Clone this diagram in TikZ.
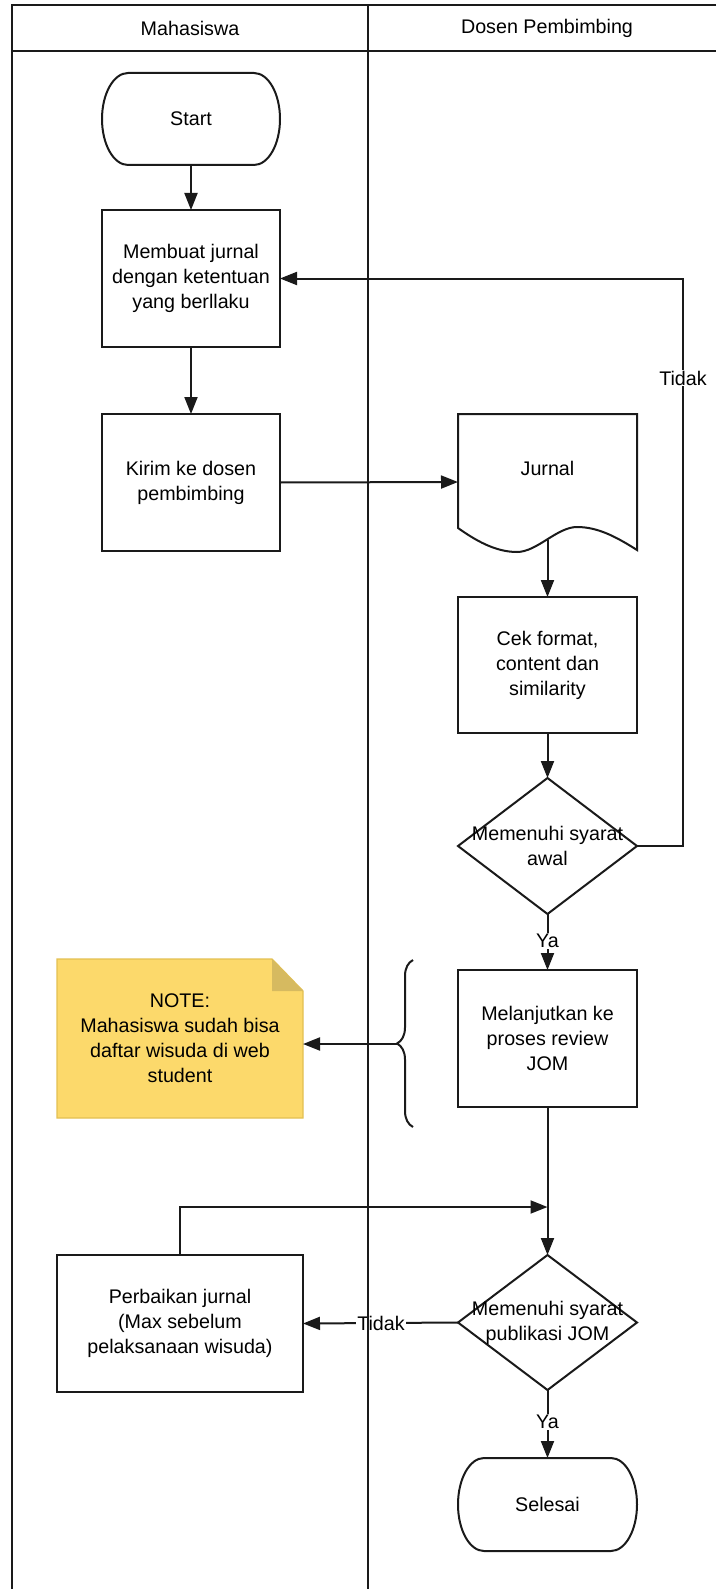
\documentclass[tikz,border=0pt]{standalone}
\usepackage{fontspec}
\setmainfont{Liberation Sans}
\usetikzlibrary{arrows.meta, shapes.geometric, decorations.pathreplacing}
\definecolor{notefill}{HTML}{FCD96B}
\definecolor{noteline}{HTML}{E3C052}
\definecolor{notefold}{HTML}{D6BA60}
\definecolor{inkline}{HTML}{1A1A1A}
\newcommand\flowfont{\fontsize{19.7}{25}\selectfont}

\tikzset{
	lane/.style={draw=inkline, line width=2pt},
	link/.style={draw=inkline, line width=2pt},
	flow/.style={link, -{Triangle[length=17pt,width=13pt]}},
	plain/.style={align=center, font=\flowfont, inner sep=1pt, outer sep=0pt},
	process/.style={plain, draw=inkline, line width=2pt, minimum width=178pt, minimum height=137pt},
	decision/.style={diamond, draw=inkline, line width=2pt, minimum width=179pt, minimum height=136pt, inner sep=0pt, outer sep=0pt},
	edgelabel/.style={plain, fill=white}
}

\begin{document}
\begin{tikzpicture}[x=1pt, y=-1pt]
		\useasboundingbox (0,0) rectangle (716,1589);

		% lane headers
		\node[plain] (mhs) at (190,28) {Mahasiswa};
		\node[plain] (dosen) at (547,28) {Dosen Pembimbing};

		% mahasiswa
		\node[plain, minimum width=178pt, minimum height=92pt] (start) at (191,119) {Start};
		\draw[link] (start.north east) ++(-26,0) arc[start angle=-90, end angle=90, x radius=26, y radius=46]
			-- ++(-126,0) arc[start angle=90, end angle=270, x radius=26, y radius=46] -- cycle;
		\node[process] (membuat) at (191,278.5) {Membuat jurnal\\dengan ketentuan\\yang berllaku};
		\node[process] (kirim) at (191,482.5) {Kirim ke dosen\\pembimbing};

		% dosen
		\draw[link] (458,528) -- (458,414) -- (637,414) -- (637,550)
			.. controls (615,536) and (597,527) .. (577,527)
			.. controls (557,527) and (537,552) .. (517,552)
			.. controls (495,552) and (475,540) .. (458,528) -- cycle;
		\node[plain, minimum width=179pt, minimum height=136pt] (jurnal) at (547.5,482) {};
		\node[plain] (jurnaltext) at (547.5,468) {Jurnal};
		\coordinate (jurnalbase) at (547.5,540);
		\node[process, minimum width=179pt, minimum height=136pt] (cek) at (547.5,665) {Cek format,\\content dan\\similarity};
		\node[decision] (syaratawal) at (547.5,846) {};
		\node[plain] (syaratawaltext) at (547.5,846) {Memenuhi syarat\\awal};
		\node[process, minimum width=179pt] (lanjut) at (547.5,1038.5) {Melanjutkan ke\\proses review\\JOM};
		\node[decision, minimum height=135pt] (syaratjom) at (547.5,1322.5) {};
		\node[plain] (syaratjomtext) at (547.5,1322.5) {Memenuhi syarat\\publikasi JOM};
		\node[plain, minimum width=179pt, minimum height=93pt] (selesai) at (547.5,1504.5) {Selesai};
		\draw[link] (selesai.north east) ++(-26,0) arc[start angle=-90, end angle=90, x radius=26, y radius=46.5]
			-- ++(-127,0) arc[start angle=90, end angle=270, x radius=26, y radius=46.5] -- cycle;

		% note and perbaikan
		\fill[notefill] (57,959) -- (272,959) -- (303,991) -- (303,1118) -- (57,1118) -- cycle;
		\draw[noteline, line width=1.4pt] (57,959) -- (272,959) -- (303,991) -- (303,1118) -- (57,1118) -- cycle;
		\fill[notefold] (272,959) -- (272,991) -- (303,991) -- cycle;
		\node[plain, minimum width=246pt, minimum height=159pt] (note) at (180,1038.5) {NOTE:\\Mahasiswa sudah bisa\\daftar wisuda di web\\student};
		\node[process, minimum width=246pt] (perbaikan) at (180,1323.5) {Perbaikan jurnal\\(Max sebelum\\pelaksanaan wisuda)};

		\draw[link, decorate, decoration={brace, amplitude=16pt}] (413,1127) -- (413,960);
		\coordinate (bracetip) at (397,1044);

		% connectors
		\draw[flow] (start.south) -- (membuat.north);
		\draw[flow] (membuat.south) -- (kirim.north);
		\draw[flow] (kirim.east) -- (jurnal.west);
		\draw[flow] (jurnalbase) -- (cek.north);
		\draw[flow] (cek.south) -- (syaratawal.north);
		\draw[flow] (syaratawal.east) -| (683,378) |- (membuat.east);
		\node[edgelabel] (tidakawal) at (683,378) {Tidak};
		\draw[flow] (syaratawal.south) -- (lanjut.north);
		\node[edgelabel] (yaawal) at (547.5,941) {Ya};
		\draw[flow] (bracetip) -- (note.east |- bracetip);
		\coordinate (gabung) at (547.5,1207);
		\draw[flow] (lanjut.south) -- (syaratjom.north);
		\draw[flow] (perbaikan.north) |- (gabung);
		\draw[flow] (syaratjom.west) -- (perbaikan.east);
		\node[edgelabel] (tidakjom) at (381,1323) {Tidak};
		\draw[flow] (syaratjom.south) -- (selesai.north);
		\node[edgelabel] (yajom) at (547.5,1422) {Ya};

		% pool
		\draw[lane] (716,5) -- (12,5) -- (12,1589);
		\draw[lane] (12,51) -- (716,51);
		\draw[lane] (368,5) -- (368,1589);
	\end{tikzpicture}
\end{document}
